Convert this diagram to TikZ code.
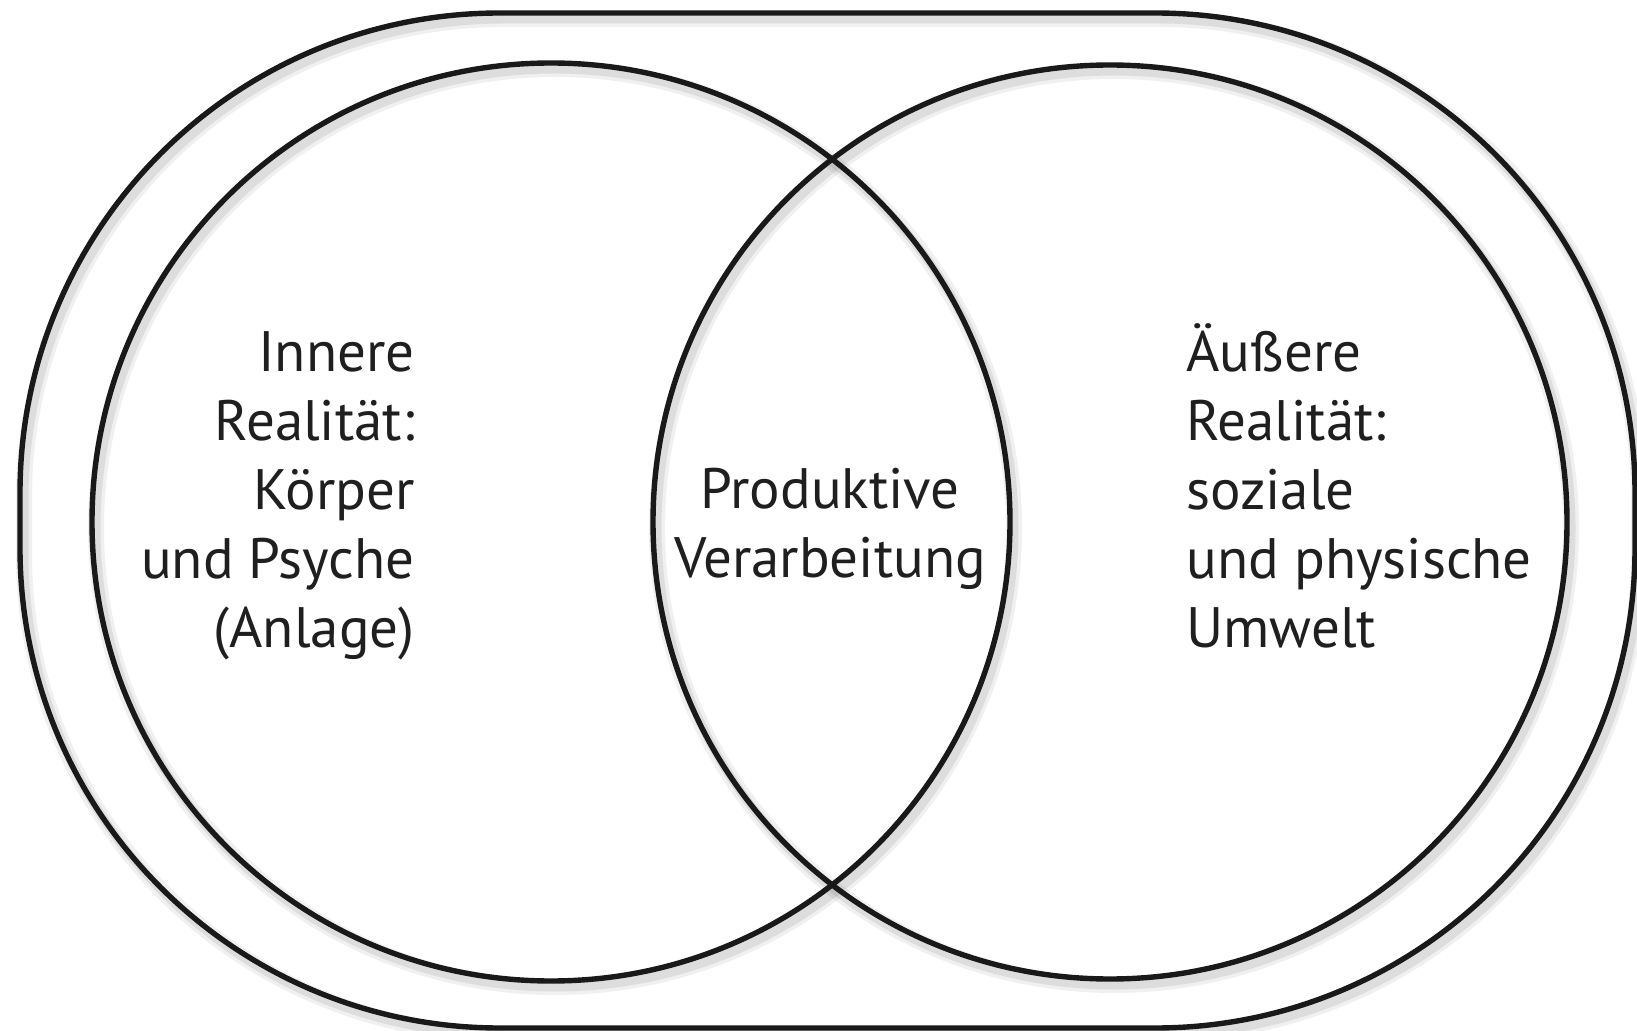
\documentclass[tikz,border=0pt]{standalone}
\usepackage{fontspec}
\setmainfont{PT Sans}
\begin{document}
\begin{tikzpicture}[x=0.5pt,y=0.5pt,
  ring/.style={draw=black!90, line width=2.7pt},
  shade1/.style={draw=black, line width=8pt, opacity=0.06},
  shade2/.style={draw=black, line width=4.5pt, opacity=0.08},
  lbl/.style={inner sep=0pt, font=\fontsize{28.5pt}{34.5pt}\selectfont, text=black!88}]
\useasboundingbox (0,0) rectangle (1637,-1031);
% shadows
\begin{scope}[shift={(4,-6)}]
  \draw[shade1, rounded corners=240pt] (20,-13) rectangle (1635,-1028);
  \draw[shade2, rounded corners=240pt] (20,-13) rectangle (1635,-1028);
  \draw[shade1] (551,-522) circle (459);
  \draw[shade2] (551,-522) circle (459);
  \draw[shade1] (1110,-522) circle (457);
  \draw[shade2] (1110,-522) circle (457);
\end{scope}
% shapes
\draw[ring, rounded corners=240pt] (20,-13) rectangle (1635,-1028);
\draw[ring] (551,-522) circle (459);
\draw[ring] (1110,-522) circle (457);
% texts (base anchor = baseline of last line)
\node[lbl, anchor=base east, align=right] (inner) at (415,-647.3)
  {Innere\\Realität:\\Körper\\und Psyche\\(Anlage)};
\node[lbl, anchor=base, align=center] (mid) at (830,-577.3)
  {Produktive\\Verarbeitung};
\node[lbl, anchor=base west, align=left] (outer) at (1186,-647.3)
  {Äußere\\Realität:\\soziale\\und physische\\Umwelt};
\end{tikzpicture}
\end{document}
